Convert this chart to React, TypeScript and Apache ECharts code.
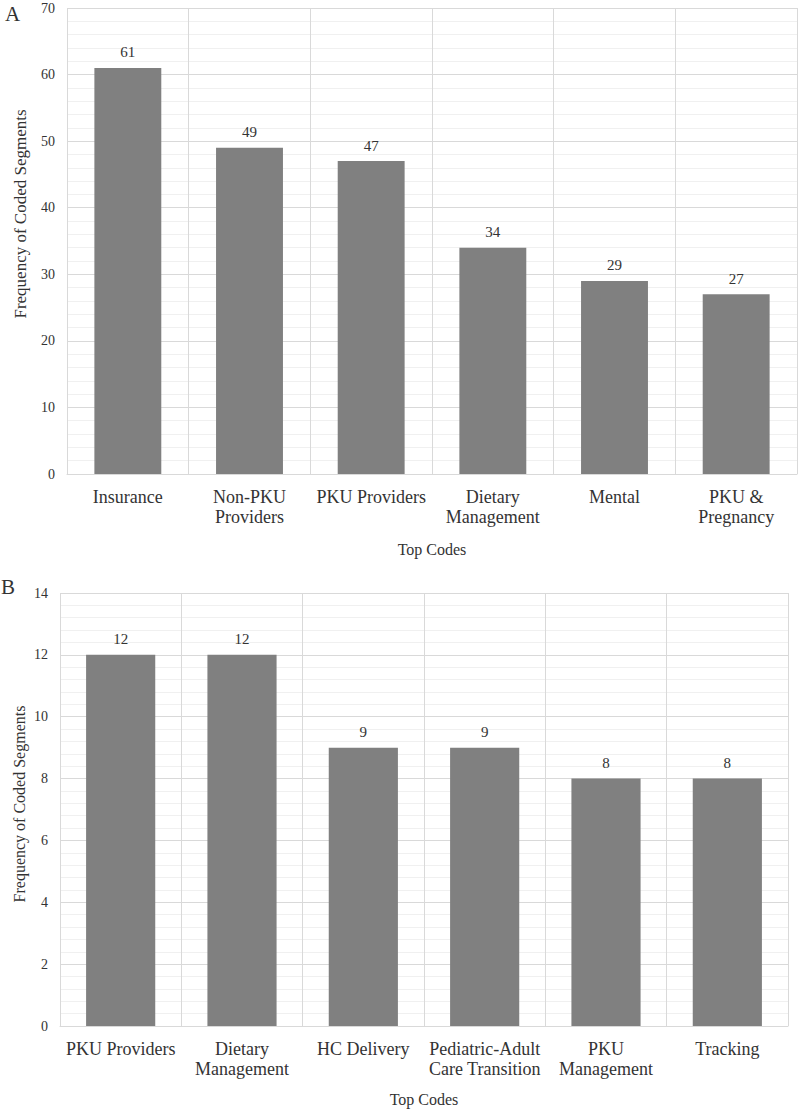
import React, { useEffect, useRef } from "react";
import * as echarts from "echarts";

const categoriesA = ["Insurance", "Non-PKU\nProviders", "PKU Providers", "Dietary\nManagement", "Mental", "PKU &\nPregnancy"];
const valuesA = [61, 49, 47, 34, 29, 27];
const categoriesB = ["PKU Providers", "Dietary\nManagement", "HC Delivery", "Pediatric-Adult\nCare Transition", "PKU\nManagement", "Tracking"];
const valuesB = [12, 12, 9, 9, 8, 8];
const yTitle = "Frequency of Coded Segments";
const xTitle = "Top Codes";

const FONT = "'Liberation Serif', 'Times New Roman', serif";
const TEXT = "#333333";
const MAJOR = "#d9d9d9";
const MINOR = "#f0f0f0";

export default function App() {
  const ref = useRef<HTMLDivElement>(null);
  useEffect(() => {
    document.body.style.margin = "0";
    const chart = echarts.init(ref.current!, null, { renderer: "svg" });
    const xAxisBase = (idx: number, data: string[], gap: number) => ({
      type: "category",
      gridIndex: idx,
      data,
      name: xTitle,
      nameLocation: "middle",
      nameGap: gap,
      nameTextStyle: { fontFamily: FONT, fontSize: 16, color: TEXT },
      axisLine: { show: true, lineStyle: { color: MAJOR, width: 1 } },
      axisTick: { show: false },
      axisLabel: { interval: 0, fontFamily: FONT, fontSize: 18, color: TEXT, lineHeight: 20, margin: 13 },
      splitLine: { show: true, interval: 0, lineStyle: { color: MAJOR, width: 1 } },
    });
    const yAxisBase = (idx: number, max: number, interval: number) => ({
      type: "value",
      gridIndex: idx,
      min: 0,
      max,
      interval,
      axisLine: { show: false },
      axisTick: { show: false },
      axisLabel: { fontFamily: FONT, fontSize: 14, color: TEXT, margin: 12 },
      splitLine: { show: true, lineStyle: { color: MAJOR, width: 1 } },
      minorTick: { show: false, splitNumber: 5 },
      minorSplitLine: { show: true, lineStyle: { color: MINOR, width: 1 } },
    });
    const label = {
      show: true,
      position: "top",
      distance: 8,
      fontFamily: FONT,
      fontSize: 15,
      color: TEXT,
    };
    chart.setOption({
      animation: false,
      backgroundColor: "#ffffff",
      grid: [
        { left: 67, top: 8, width: 730, height: 466 },
        { left: 60, top: 593, width: 728, height: 433 },
      ],
      xAxis: [xAxisBase(0, categoriesA, 67), xAxisBase(1, categoriesB, 65)],
      yAxis: [yAxisBase(0, 70, 10), yAxisBase(1, 14, 2)],
      series: [
        {
          type: "bar",
          xAxisIndex: 0,
          yAxisIndex: 0,
          data: valuesA,
          barCategoryGap: "45%",
          itemStyle: { color: "#808080" },
          label,
        },
        {
          type: "bar",
          xAxisIndex: 1,
          yAxisIndex: 1,
          data: valuesB,
          barCategoryGap: "43%",
          itemStyle: { color: "#808080" },
          label,
        },
      ],
      graphic: [
        { type: "text", left: 5, top: 3, style: { text: "A", fontFamily: FONT, fontSize: 21, fill: TEXT } },
        { type: "text", left: 1, top: 576, style: { text: "B", fontFamily: FONT, fontSize: 21, fill: TEXT } },
        {
          type: "text",
          x: 20,
          y: 214,
          rotation: Math.PI / 2,
          style: { text: yTitle, fontFamily: FONT, fontSize: 17, fill: TEXT, align: "center", verticalAlign: "middle" },
        },
        {
          type: "text",
          x: 19,
          y: 804,
          rotation: Math.PI / 2,
          style: { text: yTitle, fontFamily: FONT, fontSize: 16, fill: TEXT, align: "center", verticalAlign: "middle" },
        },
      ],
    });
    return () => chart.dispose();
  }, []);
  return <div ref={ref} style={{ width: 798, height: 1109 }} />;
}
